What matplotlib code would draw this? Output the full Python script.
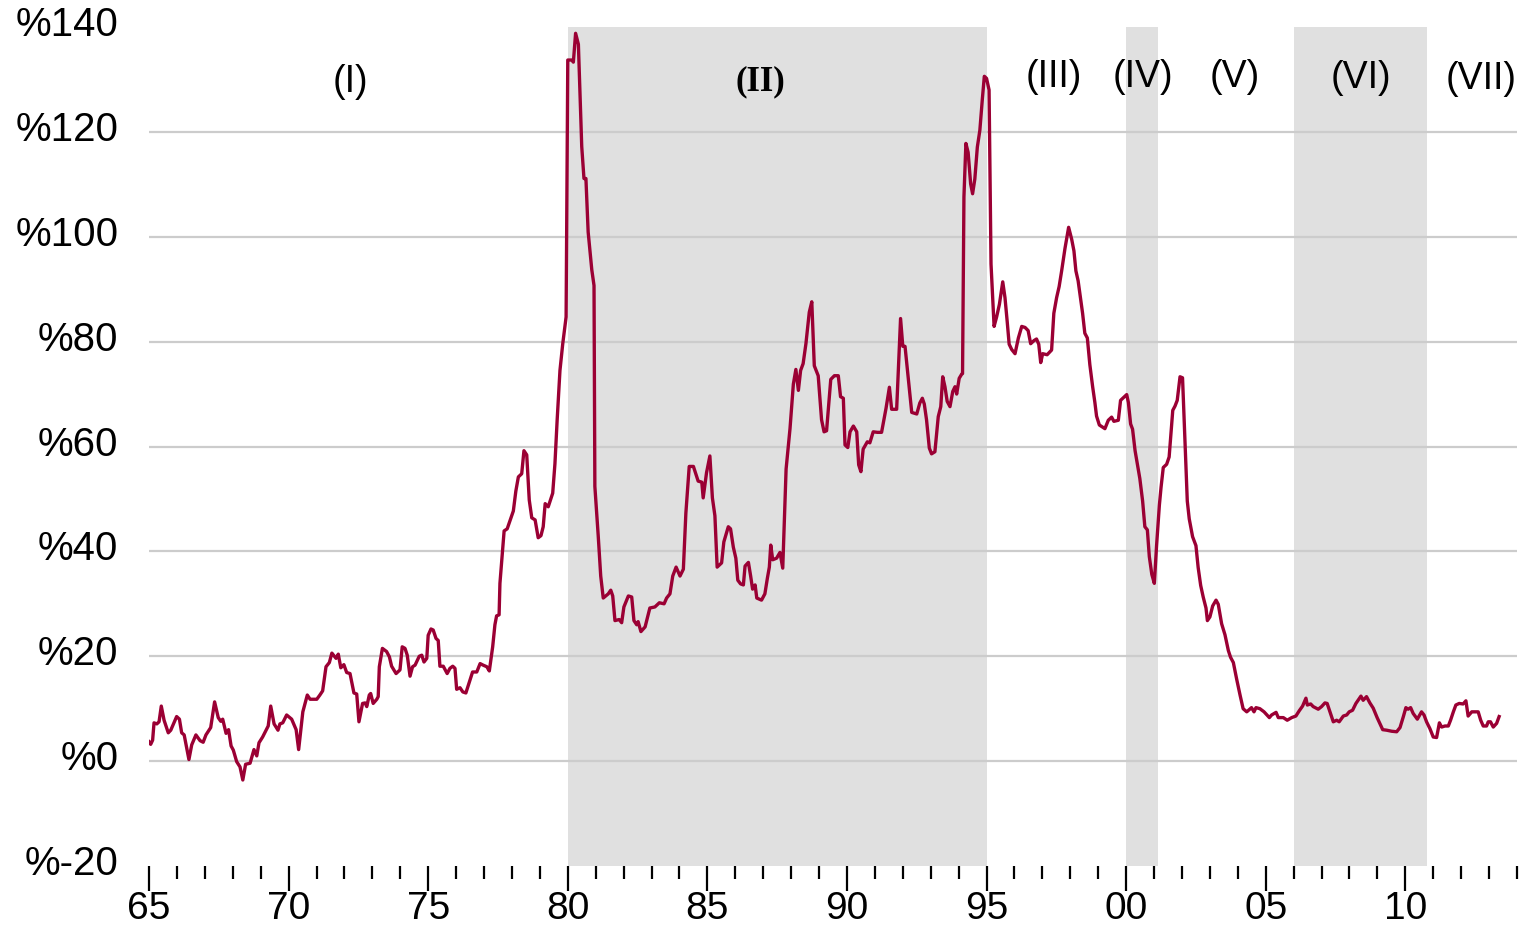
import matplotlib.pyplot as plt
import matplotlib.ticker as mticker
import matplotlib.transforms as mtransforms

# decimal year, value in %
years = [
    1965.00, 1965.06, 1965.13, 1965.18, 1965.28, 1965.36, 1965.44, 1965.54, 1965.69, 1965.78,
    1965.99, 1966.09, 1966.17, 1966.26, 1966.43, 1966.53, 1966.68, 1966.83, 1966.94, 1967.04,
    1967.21, 1967.35, 1967.48, 1967.57, 1967.64, 1967.76, 1967.85, 1967.94, 1968.02, 1968.14,
    1968.26, 1968.36, 1968.46, 1968.62, 1968.76, 1968.86, 1968.94, 1969.07, 1969.27, 1969.36,
    1969.48, 1969.62, 1969.69, 1969.79, 1969.93, 1970.11, 1970.27, 1970.36, 1970.51, 1970.67,
    1970.77, 1971.01, 1971.12, 1971.22, 1971.34, 1971.46, 1971.55, 1971.70, 1971.78, 1971.87,
    1971.98, 1972.08, 1972.20, 1972.34, 1972.44, 1972.52, 1972.65, 1972.74, 1972.80, 1972.89,
    1972.94, 1973.03, 1973.16, 1973.21, 1973.25, 1973.36, 1973.51, 1973.61, 1973.69, 1973.85,
    1973.99, 1974.07, 1974.17, 1974.25, 1974.35, 1974.44, 1974.53, 1974.68, 1974.77, 1974.85,
    1974.95, 1975.00, 1975.10, 1975.18, 1975.28, 1975.36, 1975.42, 1975.54, 1975.68, 1975.78,
    1975.88, 1975.96, 1976.02, 1976.14, 1976.24, 1976.35, 1976.50, 1976.59, 1976.74, 1976.86,
    1976.97, 1977.10, 1977.19, 1977.31, 1977.39, 1977.45, 1977.54, 1977.57, 1977.72, 1977.83,
    1978.05, 1978.14, 1978.23, 1978.35, 1978.43, 1978.53, 1978.62, 1978.71, 1978.83, 1978.94,
    1979.04, 1979.12, 1979.19, 1979.30, 1979.46, 1979.54, 1979.62, 1979.72, 1979.82, 1979.94,
    1980.00, 1980.14, 1980.20, 1980.28, 1980.38, 1980.50, 1980.58, 1980.65, 1980.73, 1980.86,
    1980.94, 1980.97, 1981.09, 1981.18, 1981.27, 1981.45, 1981.54, 1981.61, 1981.69, 1981.84,
    1981.93, 1982.01, 1982.17, 1982.29, 1982.37, 1982.47, 1982.52, 1982.62, 1982.77, 1982.94,
    1983.12, 1983.28, 1983.45, 1983.54, 1983.66, 1983.76, 1983.88, 1984.02, 1984.14, 1984.23,
    1984.35, 1984.50, 1984.67, 1984.80, 1984.85, 1984.97, 1985.09, 1985.18, 1985.27, 1985.35,
    1985.51, 1985.59, 1985.75, 1985.83, 1985.93, 1986.02, 1986.09, 1986.19, 1986.29, 1986.35,
    1986.47, 1986.55, 1986.62, 1986.71, 1986.77, 1986.94, 1987.06, 1987.15, 1987.22, 1987.27,
    1987.34, 1987.48, 1987.60, 1987.70, 1987.82, 1987.96, 1988.08, 1988.17, 1988.26, 1988.34,
    1988.43, 1988.53, 1988.65, 1988.74, 1988.83, 1988.97, 1989.09, 1989.18, 1989.27, 1989.42,
    1989.55, 1989.69, 1989.77, 1989.87, 1989.93, 1990.03, 1990.11, 1990.23, 1990.35, 1990.42,
    1990.50, 1990.58, 1990.73, 1990.82, 1990.94, 1991.09, 1991.24, 1991.40, 1991.52, 1991.60,
    1991.78, 1991.92, 1992.00, 1992.08, 1992.20, 1992.32, 1992.50, 1992.61, 1992.70, 1992.77,
    1992.85, 1992.95, 1993.03, 1993.15, 1993.27, 1993.36, 1993.43, 1993.51, 1993.59, 1993.69,
    1993.79, 1993.87, 1993.93, 1994.02, 1994.11, 1994.14, 1994.19, 1994.26, 1994.34, 1994.43,
    1994.50, 1994.58, 1994.67, 1994.76, 1994.85, 1994.92, 1995.00, 1995.09, 1995.16, 1995.27,
    1995.36, 1995.46, 1995.58, 1995.66, 1995.74, 1995.81, 1995.90, 1996.02, 1996.14, 1996.26,
    1996.38, 1996.49, 1996.58, 1996.70, 1996.79, 1996.87, 1996.94, 1997.01, 1997.17, 1997.33,
    1997.41, 1997.51, 1997.60, 1997.69, 1997.81, 1997.94, 1998.05, 1998.13, 1998.20, 1998.28,
    1998.44, 1998.52, 1998.61, 1998.70, 1998.80, 1998.88, 1998.94, 1999.04, 1999.24, 1999.36,
    1999.48, 1999.56, 1999.72, 1999.80, 2000.02, 2000.08, 2000.16, 2000.23, 2000.32, 2000.49,
    2000.59, 2000.67, 2000.76, 2000.83, 2000.92, 2001.01, 2001.09, 2001.19, 2001.25, 2001.33,
    2001.45, 2001.54, 2001.67, 2001.75, 2001.83, 2001.93, 2002.02, 2002.11, 2002.19, 2002.26,
    2002.38, 2002.50, 2002.58, 2002.67, 2002.76, 2002.86, 2002.91, 2003.00, 2003.10, 2003.22,
    2003.30, 2003.42, 2003.54, 2003.66, 2003.74, 2003.84, 2003.96, 2004.08, 2004.19, 2004.32,
    2004.49, 2004.58, 2004.65, 2004.79, 2004.94, 2005.13, 2005.21, 2005.37, 2005.45, 2005.63,
    2005.77, 2005.93, 2006.08, 2006.20, 2006.32, 2006.44, 2006.49, 2006.61, 2006.70, 2006.88,
    2007.00, 2007.12, 2007.20, 2007.30, 2007.42, 2007.54, 2007.63, 2007.78, 2007.90, 2007.99,
    2008.11, 2008.23, 2008.41, 2008.49, 2008.61, 2008.73, 2008.85, 2008.99, 2009.19, 2009.33,
    2009.51, 2009.69, 2009.81, 2009.93, 2010.02, 2010.10, 2010.19, 2010.28, 2010.43, 2010.58,
    2010.67, 2010.76, 2010.88, 2011.00, 2011.12, 2011.22, 2011.30, 2011.42, 2011.54, 2011.62,
    2011.72, 2011.81, 2011.93, 2012.07, 2012.17, 2012.25, 2012.38, 2012.49, 2012.61, 2012.70,
    2012.79, 2012.91, 2012.97, 2013.05, 2013.15, 2013.27, 2013.36,
]
rate = [
    3.7, 3.2, 4.0, 7.3, 7.1, 7.5, 10.5, 7.8, 5.4, 5.9,
    8.5, 8.0, 5.4, 5.0, 0.3, 3.1, 5.0, 3.9, 3.6, 5.0,
    6.4, 11.3, 8.3, 7.6, 8.0, 5.3, 6.0, 2.9, 2.1, -0.1,
    -1.1, -3.6, -0.6, -0.4, 2.2, 1.0, 3.5, 4.6, 6.7, 10.5,
    7.1, 5.9, 7.1, 7.3, 8.8, 8.0, 6.0, 2.2, 9.4, 12.6,
    11.8, 11.8, 12.6, 13.4, 18.0, 18.8, 20.6, 19.6, 20.4, 17.8,
    18.4, 16.9, 16.7, 13.0, 12.8, 7.5, 11.0, 11.1, 10.4, 12.6,
    12.9, 11.0, 11.8, 12.3, 18.0, 21.5, 20.9, 19.9, 18.1, 16.7,
    17.4, 21.8, 21.5, 20.2, 16.2, 18.0, 18.3, 20.0, 20.2, 18.9,
    19.6, 24.0, 25.2, 25.0, 23.4, 23.0, 18.1, 18.1, 16.7, 17.7,
    18.1, 17.7, 13.7, 14.0, 13.2, 13.0, 15.5, 17.0, 17.0, 18.6,
    18.3, 18.0, 17.2, 21.8, 26.0, 27.7, 27.9, 33.9, 43.9, 44.3,
    47.7, 51.5, 54.2, 54.8, 59.2, 58.4, 49.8, 46.4, 46.0, 42.6,
    43.0, 44.7, 49.1, 48.5, 51.1, 56.7, 65.1, 74.5, 79.6, 84.7,
    133.7, 133.7, 133.3, 138.8, 136.7, 117.2, 111.1, 111.1, 100.9, 93.7,
    90.7, 52.4, 43.0, 35.3, 31.1, 31.9, 32.6, 31.5, 26.8, 27.0,
    26.4, 29.4, 31.5, 31.3, 26.8, 26.0, 26.6, 24.7, 25.6, 29.2,
    29.4, 30.2, 30.0, 31.1, 31.9, 35.3, 37.0, 35.3, 36.6, 47.3,
    56.2, 56.2, 53.4, 53.2, 50.2, 55.0, 58.2, 50.2, 46.8, 37.0,
    37.8, 41.8, 44.7, 44.3, 40.8, 38.7, 34.5, 33.8, 33.6, 37.2,
    37.9, 35.3, 32.8, 33.6, 31.1, 30.7, 31.9, 34.9, 37.0, 41.2,
    38.4, 38.7, 39.8, 36.8, 55.7, 63.4, 71.9, 74.7, 70.7, 74.5,
    75.8, 79.6, 85.6, 87.6, 75.4, 73.5, 65.1, 62.8, 63.0, 72.8,
    73.5, 73.5, 69.5, 69.2, 60.3, 59.8, 62.8, 63.9, 62.8, 56.5,
    55.2, 59.5, 60.9, 60.7, 62.8, 62.7, 62.7, 67.3, 71.3, 67.1,
    67.1, 84.4, 79.1, 79.1, 72.7, 66.5, 66.2, 68.3, 69.2, 68.1,
    65.1, 59.7, 58.6, 59.0, 65.7, 67.6, 73.3, 71.4, 68.6, 67.6,
    70.5, 71.4, 70.0, 73.0, 73.8, 73.9, 107.6, 117.8, 116.1, 110.1,
    108.2, 111.0, 117.1, 120.3, 126.3, 130.6, 130.2, 128.0, 94.8, 82.9,
    84.7, 87.1, 91.4, 88.4, 83.8, 79.5, 78.5, 77.7, 80.7, 82.9,
    82.7, 82.1, 79.6, 80.2, 80.5, 79.5, 76.0, 77.7, 77.5, 78.4,
    85.4, 88.4, 90.5, 93.5, 97.8, 101.8, 99.5, 97.3, 93.5, 91.6,
    85.4, 81.6, 80.7, 75.6, 71.4, 68.4, 65.8, 64.1, 63.4, 65.0,
    65.6, 64.8, 65.0, 68.8, 69.9, 68.4, 64.3, 63.3, 59.2, 53.9,
    49.6, 44.7, 44.1, 39.0, 35.6, 33.9, 41.1, 48.8, 52.2, 56.0,
    56.6, 58.0, 66.9, 67.7, 68.8, 73.3, 73.1, 60.7, 49.6, 46.2,
    42.8, 41.1, 36.9, 33.5, 31.3, 29.2, 26.8, 27.5, 29.6, 30.7,
    29.9, 26.2, 24.1, 21.1, 19.8, 18.8, 15.6, 12.6, 10.0, 9.4,
    10.2, 9.4, 10.2, 10.0, 9.4, 8.3, 8.8, 9.3, 8.3, 8.3,
    7.8, 8.3, 8.6, 9.6, 10.5, 12.0, 10.7, 10.9, 10.4, 9.9,
    10.4, 11.1, 11.0, 9.4, 7.5, 7.8, 7.5, 8.6, 8.8, 9.4,
    9.7, 11.0, 12.4, 11.6, 12.3, 11.1, 10.1, 8.3, 6.0, 5.9,
    5.7, 5.6, 6.4, 8.5, 10.2, 9.9, 10.2, 9.1, 8.0, 9.4,
    8.8, 7.5, 6.2, 4.6, 4.5, 7.3, 6.5, 6.7, 6.7, 7.8,
    9.4, 10.7, 11.0, 10.9, 11.5, 8.6, 9.4, 9.4, 9.4, 7.8,
    6.7, 6.7, 7.5, 7.5, 6.5, 7.2, 8.5,
]

# shaded periods (start, end)
shade_start = [1980.0, 2000.0, 2006.0]
shade_end = [1995.0, 2001.15, 2010.77]

# period labels
period_names = ["(I)", "(II)", "(III)", "(IV)", "(V)", "(VI)", "(VII)"]
period_x = [1972.2, 1986.9, 1997.4, 2000.6, 2003.9, 2008.4, 2012.7]
period_y = [129.6, 129.6, 130.4, 130.4, 130.4, 130.2, 130.0]

ytick_vals = [-20, 0, 20, 40, 60, 80, 100, 120, 140]
xtick_vals = [1965, 1970, 1975, 1980, 1985, 1990, 1995, 2000, 2005, 2010]
xtick_labels = ["65", "70", "75", "80", "85", "90", "95", "00", "05", "10"]

plt.rcParams['font.family'] = ['Liberation Sans', 'DejaVu Sans']

fig = plt.figure(figsize=(15.24, 9.27), dpi=100)
ax = fig.add_axes([149 / 1524, 1 - 866 / 927, (1517 - 149) / 1524, (866 - 27) / 927])

for s, e in zip(shade_start, shade_end):
    ax.axvspan(s, e, color='#e0e0e0', lw=0, zorder=0)

for v in ytick_vals[1:-1]:
    ax.axhline(v, color='#cccccc', lw=1.6, zorder=1)

ax.plot(years, rate, color='#9b0034', lw=2.4, zorder=3)

for name, x, y in zip(period_names, period_x, period_y):
    if name == "(II)":
        ax.text(x, y, name, ha='center', va='center', fontsize=25, fontweight='bold',
                family='Liberation Serif', zorder=4)
    else:
        ax.text(x, y, name, ha='center', va='center', fontsize=27, zorder=4)

ax.set_xlim(1965, 2014)
ax.set_ylim(-20, 140)

ax.set_yticks(ytick_vals)
ax.set_yticklabels(["%" + str(v) for v in ytick_vals])
ax.set_xticks(xtick_vals)
ax.set_xticklabels(xtick_labels)
ax.xaxis.set_minor_locator(mticker.MultipleLocator(1))

ax.tick_params(axis='y', length=0, pad=22, labelsize=29)
ax.tick_params(axis='x', which='major', length=18, width=1.6, pad=0, labelsize=28)
ax.tick_params(axis='x', which='minor', length=9, width=1.6)

# y labels sit a little above their gridlines in the original
shift = mtransforms.ScaledTranslation(0, 6 / 100, fig.dpi_scale_trans)
for lab in ax.get_yticklabels():
    lab.set_transform(lab.get_transform() + shift)

for sp in ax.spines.values():
    sp.set_visible(False)

fig.savefig('out.png', dpi=100)
